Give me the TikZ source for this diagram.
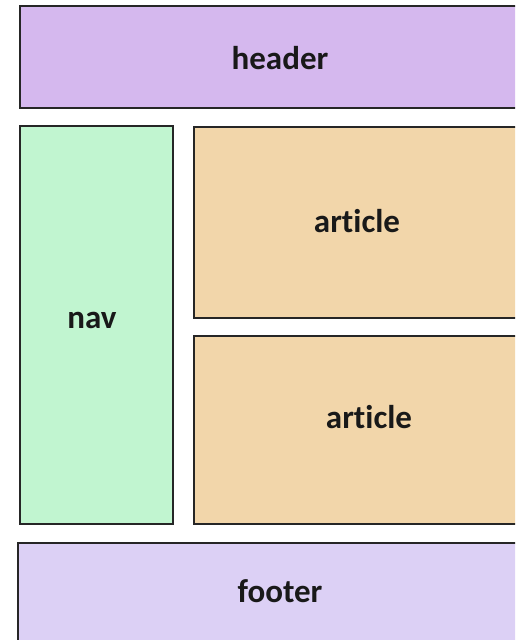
\documentclass[tikz,border=0pt]{standalone}
\usepackage{fontspec}
\setmainfont[Ligatures=NoCommon]{Carlito}
\definecolor{hdrfill}{HTML}{D5B8EE}
\definecolor{navfill}{HTML}{C1F5D0}
\definecolor{artfill}{HTML}{F2D6AA}
\definecolor{ftrfill}{HTML}{DCD0F5}
\tikzset{
  box/.style={draw=black!85, line width=1.9pt, anchor=north west, inner sep=0pt},
  lbl/.style={font=\fontsize{33}{38}\selectfont\bfseries, text=black!90}
}

\begin{document}
\begin{tikzpicture}[x=1pt,y=-1pt]
            \useasboundingbox (0,0) rectangle (515,640);
            \clip (0,0) rectangle (515,640);
            % boxes
            \node[box, fill=hdrfill, minimum width=526pt, minimum height=102pt] (header) at (19,5) {};
            \node[box, fill=navfill, minimum width=153pt, minimum height=398pt] (nav) at (19,125) {};
            \node[box, fill=artfill, minimum width=340pt, minimum height=191pt] (art1) at (193,126) {};
            \node[box, fill=artfill, minimum width=340pt, minimum height=188pt] (art2) at (193,335) {};
            \node[box, fill=ftrfill, minimum width=530pt, minimum height=110pt] (footer) at (17,542) {};
            % labels
            \node[lbl] (headertxt) at (280,58) {header};
            \node[lbl] (navtxt) at (92,320) {nav};
            \node[lbl] (art1txt) at (357,221) {art\kern0pt icle};
            \node[lbl] (art2txt) at (369,417) {art\kern0pt icle};
            \node[lbl] (footertxt) at (280,591) {footer};
        \end{tikzpicture}
\end{document}
